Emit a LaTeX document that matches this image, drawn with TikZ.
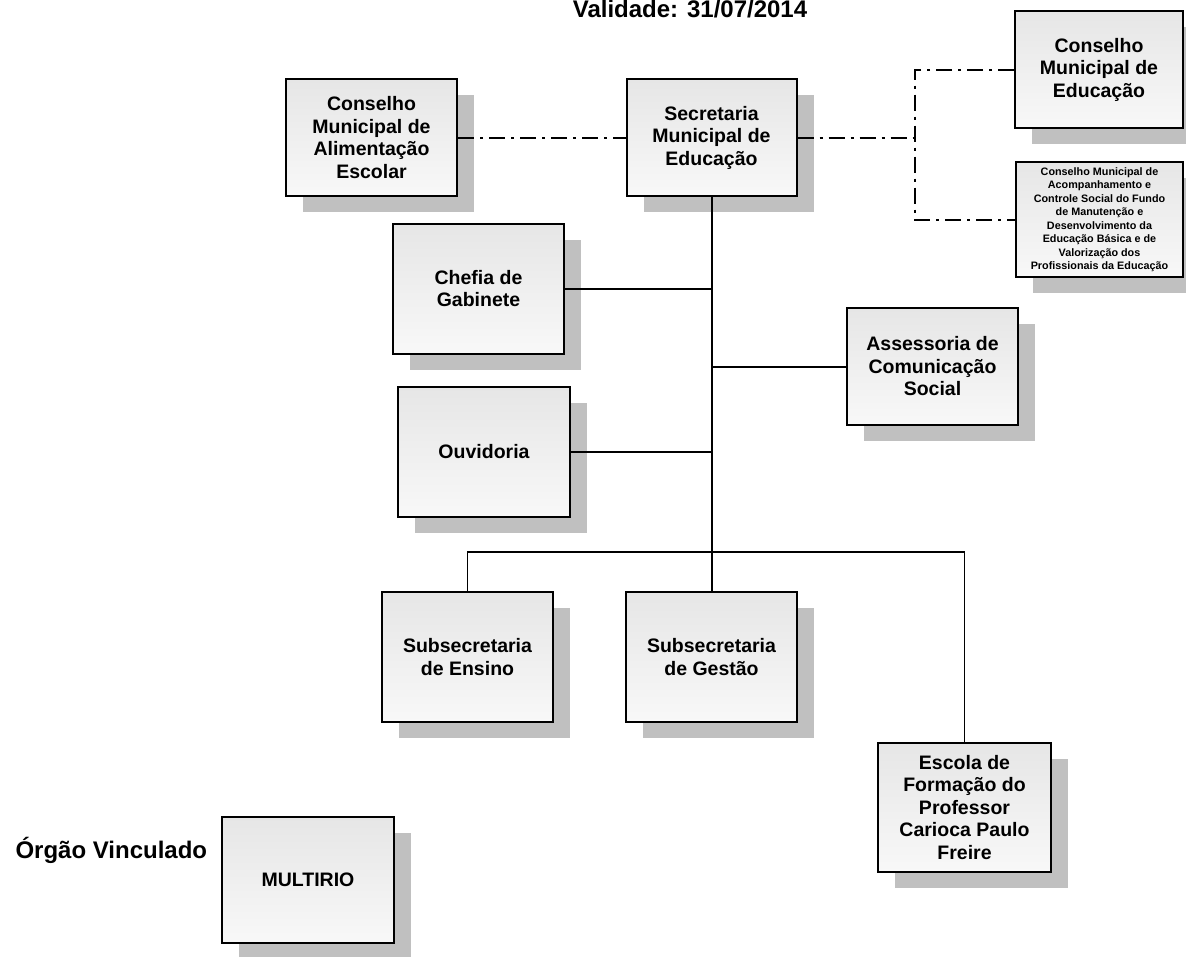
\documentclass[tikz,border=0pt]{standalone}
\usepackage{fontspec}
\setmainfont{Liberation Sans}
\usetikzlibrary{shadows}
\definecolor{shadowgray}{RGB}{192,192,192}
\definecolor{boxtop}{RGB}{230,230,230}
\definecolor{boxbot}{RGB}{248,248,248}
\tikzset{
  orgbox/.style={draw=black, line width=2pt, top color=boxtop, bottom color=boxbot,
    align=center, inner sep=2pt,
    font=\bfseries\fontsize{19.5}{22.5}\selectfont,
    drop shadow={shadow xshift=17pt, shadow yshift=-16pt, fill=shadowgray, opacity=1}},
  smalltext/.style={font=\bfseries\fontsize{10.8}{13.5}\selectfont},
  conn/.style={line width=2pt, black},
  thinconn/.style={line width=1.2pt, black},
  dd/.style={line width=2pt, black, dash pattern=on 16pt off 6pt on 3pt off 6pt},
  label/.style={font=\bfseries\fontsize{24}{28}\selectfont}
}
\begin{document}
\begin{tikzpicture}[x=1pt, y=-1pt]
\useasboundingbox (0,0) rectangle (1186,956);

% title
\node[label, anchor=base] (title) at (690,17) {Validade: 31/07/2014};

% boxes
\node[orgbox, minimum width=171, minimum height=117] (alim) at (371.5,137.5) {Conselho\\Municipal de\\Alimentação\\Escolar};
\node[orgbox, minimum width=170, minimum height=117] (sec) at (711.5,137.5) {Secretaria\\Municipal de\\Educação};
\node[orgbox, minimum width=168, minimum height=117] (cme) at (1099,69.5) {Conselho\\Municipal de\\Educação};
\node[orgbox, smalltext, minimum width=167, minimum height=115] (fundeb) at (1099.5,219.5) {Conselho Municipal de\\Acompanhamento e\\Controle Social do Fundo\\de Manutenção e\\Desenvolvimento da\\Educação Básica e de\\Valorização dos\\Profissionais da Educação};
\node[orgbox, minimum width=171, minimum height=130] (chefia) at (478.5,288.5) {Chefia de\\Gabinete};
\node[orgbox, minimum width=171, minimum height=117] (asses) at (932.5,366.5) {Assessoria de\\Comunicação\\Social};
\node[orgbox, minimum width=172, minimum height=130] (ouv) at (484,451.5) {Ouvidoria};
\node[orgbox, minimum width=171, minimum height=130] (ensino) at (467.5,657) {Subsecretaria\\de Ensino};
\node[orgbox, minimum width=171, minimum height=130] (gest) at (711.5,657) {Subsecretaria\\de Gestão};
\node[orgbox, minimum width=173, minimum height=129] (escola) at (964.5,807.5) {Escola de\\Formação do\\Professor\\Carioca Paulo\\Freire};
\node[orgbox, minimum width=172, minimum height=126] (multi) at (308,880) {MULTIRIO};

\node[label, anchor=base west] (orgao) at (12,858) {Órgão Vinculado};

% solid connectors
\draw[conn] (sec.south) -- (gest.north);
\draw[conn] (chefia.east) -- (chefia.east -| sec.south);
\draw[conn] (asses.west) -- (asses.west -| sec.south);
\draw[conn] (ouv.east) -- (ouv.east -| sec.south);
\coordinate (bus) at (711.5,552);
\draw[thinconn] (ensino.north) |- (bus) -| (escola.north);

% dash-dot connectors
\coordinate (jm) at (915,137.5);
\coordinate (jt) at (915,69.5);
\coordinate (jb) at (915,219.5);
\draw[dd] (alim.east) -- (sec.west);
\draw[dd] (sec.east) -- (jm);
\draw[dd] (cme.west) -- (jt) -- (jb) -- (fundeb.west);
\end{tikzpicture}
\end{document}
